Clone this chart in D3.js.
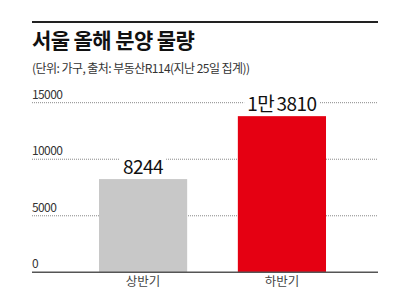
<!DOCTYPE html>
<html><head><meta charset="utf-8">
<script src="https://cdn.jsdelivr.net/npm/d3@7"></script>
<style>
html,body{margin:0;padding:0;background:#fff;}
svg{display:block;font-family:"Noto Sans CJK KR","Noto Sans",sans-serif;}
</style></head>
<body>
<svg id="c" width="410" height="290"></svg>
<script>
const categories = ["상반기", "하반기"];
const values = [8244, 13810];
const valueLabels = ["8244", "1만 3810"];
const tickValues = [0, 5000, 10000, 15000];
const colors = ["#c8c8c8", "#e50012"];
const title = "서울 올해 분양 물량";
const subtitle = "(단위: 가구, 출처: 부동산R114(지난 25일 집계))";

const svg = d3.select("#c");
const left = 32, right = 378;

// top rule
svg.append("line").attr("x1", left).attr("x2", right).attr("y1", 22).attr("y2", 22)
  .attr("stroke", "#222").attr("stroke-width", 2);

svg.append("text").attr("x", left).attr("y", 48)
  .attr("font-size", 21).attr("font-weight", 700).attr("fill", "#111")
  .attr("letter-spacing", -0.6).text(title);
svg.append("text").attr("x", left).attr("y", 73)
  .attr("font-size", 12).attr("fill", "#333").attr("letter-spacing", -0.55).text(subtitle);

const y = d3.scaleLinear().domain([0, 15000]).range([272.3, 102.7]);
const x = d3.scaleBand().domain(categories).range([74, 351]).paddingInner(0.365).paddingOuter(0.18);

// gridlines
const g = svg.append("g");
tickValues.filter(t => t > 0).forEach(t => {
  g.append("line").attr("x1", left).attr("x2", right).attr("y1", y(t)).attr("y2", y(t))
    .attr("stroke", "#888").attr("stroke-width", 1).attr("stroke-dasharray", "1,1");
});
tickValues.forEach(t => {
  g.append("text").attr("x", left).attr("y", y(t) - 4).attr("font-size", 12)
    .attr("fill", "#333").attr("letter-spacing", -0.6).text(t);
});

// bars
svg.selectAll("rect.bar").data(categories).join("rect").attr("class", "bar")
  .attr("x", d => x(d)).attr("width", x.bandwidth())
  .attr("y", (d, i) => y(values[i])).attr("height", (d, i) => y(0) - y(values[i]))
  .attr("fill", (d, i) => colors[i]);

// axis baseline
svg.append("line").attr("x1", left).attr("x2", right).attr("y1", y(0)).attr("y2", y(0))
  .attr("stroke", "#555").attr("stroke-width", 1.5);

// value labels
categories.forEach((c, i) => {
  const cx = x(c) + x.bandwidth() / 2;
  const t = svg.append("text").attr("x", cx).attr("y", y(values[i]) - 5)
    .attr("text-anchor", "middle").attr("font-size", 19).attr("fill", "#111")
    .attr("letter-spacing", -0.5).attr("word-spacing", -1.5).text(valueLabels[i]);
  const bb = t.node().getBBox();
  svg.insert("rect", () => t.node()).attr("x", bb.x - 3).attr("y", bb.y + 2)
    .attr("width", bb.width + 6).attr("height", bb.height - 4).attr("fill", "#fff");
});

// category labels
svg.selectAll("text.cat").data(categories).join("text").attr("class", "cat")
  .attr("x", d => x(d) + x.bandwidth() / 2).attr("y", 285.5)
  .attr("text-anchor", "middle").attr("font-size", 12.5).attr("fill", "#444").text(d => d);
</script>
</body></html>
